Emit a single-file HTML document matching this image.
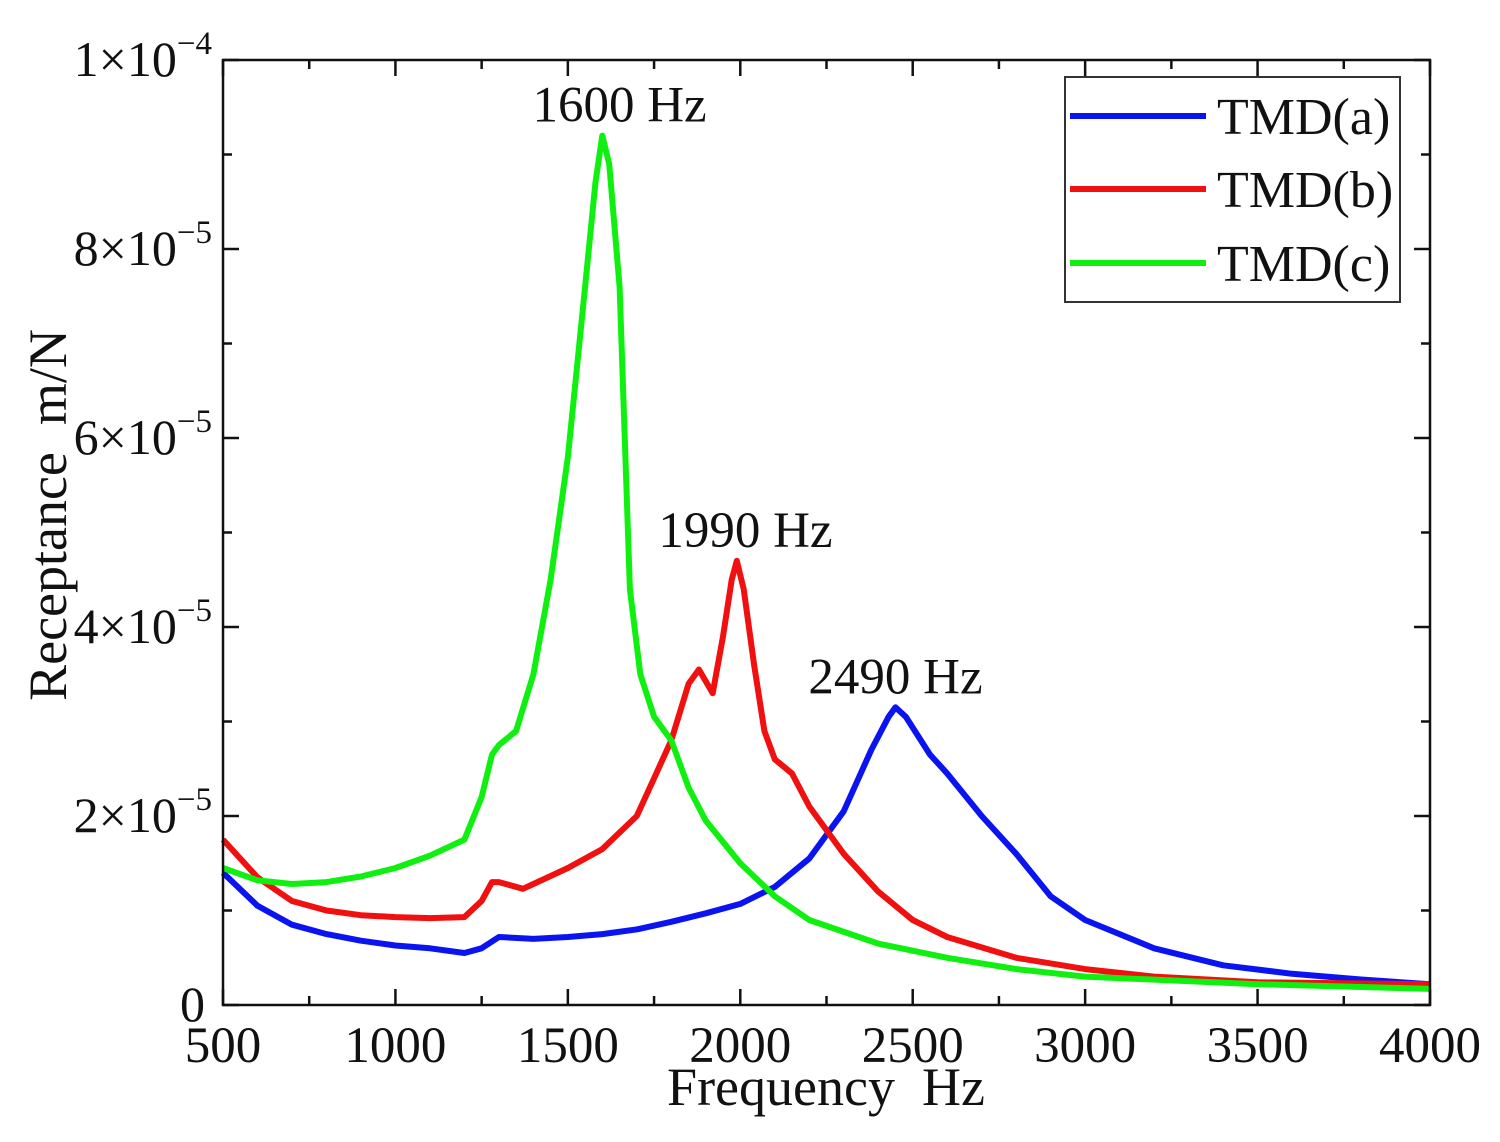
<!DOCTYPE html>
<html><head><meta charset="utf-8"><style>
body{margin:0;background:#fff;}
svg text{font-family:"Liberation Serif",serif;fill:#111;white-space:pre;}
</style></head><body>
<svg id="chart" width="1500" height="1137" xmlns="http://www.w3.org/2000/svg">
<g id="series"></g>
<g id="axes"></g>
</svg>
<script>
const freqA=[500,600,700,800,900,1000,1100,1200,1250,1300,1400,1500,1600,1700,1800,1900,2000,2100,2200,2300,2380,2430,2450,2480,2550,2600,2700,2800,2900,3000,3200,3400,3600,3800,4000];
const valsA=[1.4,1.05,0.85,0.75,0.68,0.63,0.6,0.55,0.6,0.72,0.7,0.72,0.75,0.8,0.88,0.97,1.07,1.25,1.55,2.05,2.7,3.05,3.15,3.05,2.65,2.45,2.0,1.6,1.15,0.9,0.6,0.42,0.33,0.27,0.22];
const freqB=[500,600,700,800,900,1000,1100,1200,1250,1280,1300,1370,1400,1500,1600,1700,1750,1800,1850,1880,1920,1950,1975,1990,2010,2040,2070,2100,2150,2200,2300,2400,2500,2600,2800,3000,3200,3500,4000];
const valsB=[1.75,1.35,1.1,1.0,0.95,0.93,0.92,0.93,1.1,1.3,1.3,1.23,1.28,1.45,1.65,2.0,2.4,2.8,3.4,3.55,3.3,3.9,4.5,4.7,4.4,3.6,2.9,2.6,2.45,2.1,1.6,1.2,0.9,0.72,0.5,0.38,0.3,0.24,0.22];
const freqC=[500,600,700,800,900,1000,1100,1200,1250,1280,1300,1350,1400,1450,1500,1550,1580,1600,1620,1650,1680,1710,1750,1780,1800,1850,1900,2000,2100,2200,2400,2600,2800,3000,3500,4000];
const valsC=[1.45,1.32,1.28,1.3,1.36,1.45,1.58,1.75,2.2,2.65,2.75,2.9,3.5,4.5,5.8,7.6,8.7,9.2,8.9,7.6,4.4,3.5,3.05,2.9,2.8,2.3,1.95,1.5,1.15,0.9,0.65,0.5,0.38,0.3,0.22,0.17];
const xTicks=[500,1000,1500,2000,2500,3000,3500,4000];
const yTicks=[0,2,4,6,8,10];
const yTickLabels=["0","2×10","4×10","6×10","8×10","1×10"];
const yTickExps=["","−5","−5","−5","−5","−4"];
const annotations=[["1600 Hz",1650,9.2],["1990 Hz",2015,4.7],["2490 Hz",2450,3.15]];

const L=223,R=1430,T=60,B=1005;
const xs=f=>L+(f-500)/3500*(R-L);
const ys=v=>B-v/10*(B-T);
const NS="http://www.w3.org/2000/svg";
function mk(tag,attrs,parent){const e=document.createElementNS(NS,tag);for(const k in attrs)e.setAttribute(k,attrs[k]);parent.appendChild(e);return e;}
const ax=document.getElementById('axes'), sg=document.getElementById('series');

const frame=mk('rect',{x:L,y:T,width:R-L,height:B-T,fill:'none',stroke:'#111','stroke-width':2.5},ax);



function drawSeries(fr,vals,color,name){
  const d=fr.map((f,i)=>(i?'L':'M')+xs(f).toFixed(1)+','+ys(vals[i]).toFixed(1)).join(' ');
  const p=mk('path',{d:d,fill:'none',stroke:color,'stroke-width':6,'stroke-linejoin':'round'},sg);
  
  
}
drawSeries(freqA,valsA,'#0a14f0','series-tmd-a');
drawSeries(freqB,valsB,'#f01010','series-tmd-b');
drawSeries(freqC,valsC,'#10f010','series-tmd-c');

for(let f=500;f<=4000;f+=250){
  const major=(f%500===0), len=major?16:9, x=xs(f);
  mk('line',{x1:x,y1:B,x2:x,y2:B-len,stroke:'#111','stroke-width':2.5},ax);
  mk('line',{x1:x,y1:T,x2:x,y2:T+len,stroke:'#111','stroke-width':2.5},ax);
}
xTicks.forEach(f=>{
  const t=mk('text',{x:xs(f),y:1062,'font-size':51,'text-anchor':'middle'},ax);t.textContent=f;
  
  
});
for(let v=0;v<=10;v+=1){
  const major=(v%2===0), len=major?16:9, y=ys(v);
  mk('line',{x1:L,y1:y,x2:L+len,y2:y,stroke:'#111','stroke-width':2.5},ax);
  mk('line',{x1:R,y1:y,x2:R-len,y2:y,stroke:'#111','stroke-width':2.5},ax);
}
yTicks.forEach((v,i)=>{
  const t=mk('text',{x:212,y:ys(v)+16,'font-size':50,'text-anchor':'end'},ax);
  
  
  if(yTickExps[i]){
    t.textContent=yTickLabels[i];
    const s=mk('tspan',{'font-size':33,dy:-22},t);s.textContent=yTickExps[i];
  } else { t.textContent=yTickLabels[i]; t.setAttribute('x',205); }
});
annotations.forEach(a=>{
  const t=mk('text',{x:xs(a[1]),y:ys(a[2])-14,'font-size':51,'text-anchor':'middle'},ax);t.textContent=a[0];
  
  
});
const xt=mk('text',{x:826,y:1105,'font-size':54,'text-anchor':'middle'},ax);xt.textContent='Frequency  Hz';


const yt=mk('text',{x:0,y:0,'font-size':54,'text-anchor':'middle',transform:'translate(66,515) rotate(-90)'},ax);yt.textContent='Receptance  m/N';



const lg=mk('g',{},ax);


mk('rect',{x:1065,y:77,width:335,height:225,fill:'#fff',stroke:'#333','stroke-width':2},lg);
[['TMD(a)','#0a14f0',116],['TMD(b)','#f01010',189],['TMD(c)','#10f010',263]].forEach(e=>{
  const g=mk('g',{},lg);
  
  
  mk('line',{x1:1070,y1:e[2],x2:1206,y2:e[2],stroke:e[1],'stroke-width':6},g);
  const t=mk('text',{x:1217,y:e[2]+18,'font-size':52},g);t.textContent=e[0];
});
</script>
</body></html>
